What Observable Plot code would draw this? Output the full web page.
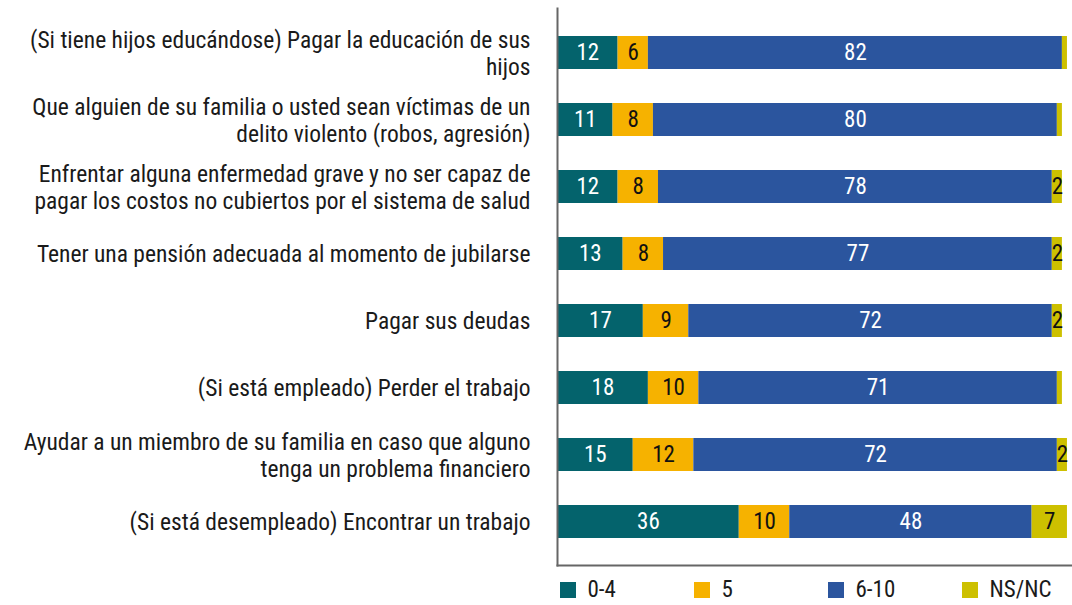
<!DOCTYPE html>
<html>
<head>
<meta charset="utf-8">
<script src="https://cdn.jsdelivr.net/npm/d3@7"></script>
<script src="https://cdn.jsdelivr.net/npm/@observablehq/plot@0.6"></script>
<style>
  html, body { margin: 0; padding: 0; background: #fff; }
  body { width: 1072px; height: 605px; overflow: hidden;
         font-family: "Liberation Sans Narrow", "Roboto Condensed", "DejaVu Sans Condensed", "Arial Narrow", sans-serif; }
  #chart svg { display: block; }
  .lg-swatches { margin: 5px 0 0 560px !important; font-size: 23px; line-height: 25px; color: #1a1a1a;
                 font-family: "Liberation Sans Narrow", "Roboto Condensed", "DejaVu Sans Condensed", sans-serif;
                 display: flex; flex-wrap: nowrap; min-height: 25px !important; }
  .lg-swatch { width: 134px; margin-right: 0 !important; flex: none; }
  .lg-swatch:last-child { width: auto; }
</style>
</head>
<body>
<div id="chart"></div>
<script>
const categories = [
  "(Si tiene hijos educándose) Pagar la educación de sus\nhijos",
  "Que alguien de su familia o usted sean víctimas de un\ndelito violento (robos, agresión)",
  "Enfrentar alguna enfermedad grave y no ser capaz de\npagar los costos no cubiertos por el sistema de salud",
  "Tener una pensión adecuada al momento de jubilarse",
  "Pagar sus deudas",
  "(Si está empleado) Perder el trabajo",
  "Ayudar a un miembro de su familia en caso que alguno\ntenga un problema financiero",
  "(Si está desempleado) Encontrar un trabajo"
];
const seriesNames = ["0-4", "5", "6-10", "NS/NC"];
const seriesColors = ["#04636c", "#f6b200", "#2b559e", "#cdc000"];
const labelColors = ["#ffffff", "#111111", "#ffffff", "#111111"];
const v04   = [12, 11, 12, 13, 17, 18, 15, 36];
const v5    = [6, 8, 8, 8, 9, 10, 12, 10];
const v610  = [82, 80, 78, 77, 72, 71, 72, 48];
const vNSNC = [1, 1, 2, 2, 2, 1, 2, 7];

const seriesValues = [v04, v5, v610, vNSNC];
const data = [];
categories.forEach((c, i) => {
  seriesNames.forEach((s, j) => {
    data.push({cat: c, series: s, value: seriesValues[j][i], label: labelColors[j]});
  });
});

const font = `"Liberation Sans Narrow", "Roboto Condensed", "DejaVu Sans Condensed", sans-serif`;

const chart = Plot.plot({
  width: 1072,
  height: 572,
  marginLeft: 557,
  marginRight: 0,
  marginTop: 8,
  marginBottom: 7,
  style: {fontFamily: font, background: "#fff"},
  x: {domain: [0, 102], axis: null},
  y: {domain: categories, type: "band", paddingInner: 0.51, paddingOuter: 0.395, axis: null},
  color: {domain: seriesNames, range: seriesColors},
  marks: [
    Plot.barX(data, Plot.stackX({x: "value", y: "cat", fill: "series", order: null})),
    Plot.text(data, Plot.stackX({
      x: "value", y: "cat", z: "series", order: null,
      text: d => d.value >= 2 ? String(d.value) : "",
      fill: "label", fontSize: 23
    })),
    Plot.text(categories, {
      x: 0, y: d => d, text: d => d, textAnchor: "end", dx: -27,
      fontSize: 23.5, lineHeight: 1.12, fill: "#1a1a1a"
    }),
    Plot.frame({anchor: "left", stroke: "#666", strokeWidth: 2}),
    Plot.frame({anchor: "bottom", stroke: "#666", strokeWidth: 2})
  ]
});
document.getElementById("chart").appendChild(chart);

const legend = Plot.legend({
  color: {domain: seriesNames, range: seriesColors},
  legend: "swatches",
  swatchSize: 16,
  className: "lg"
});
document.getElementById("chart").appendChild(legend);
</script>
</body>
</html>
